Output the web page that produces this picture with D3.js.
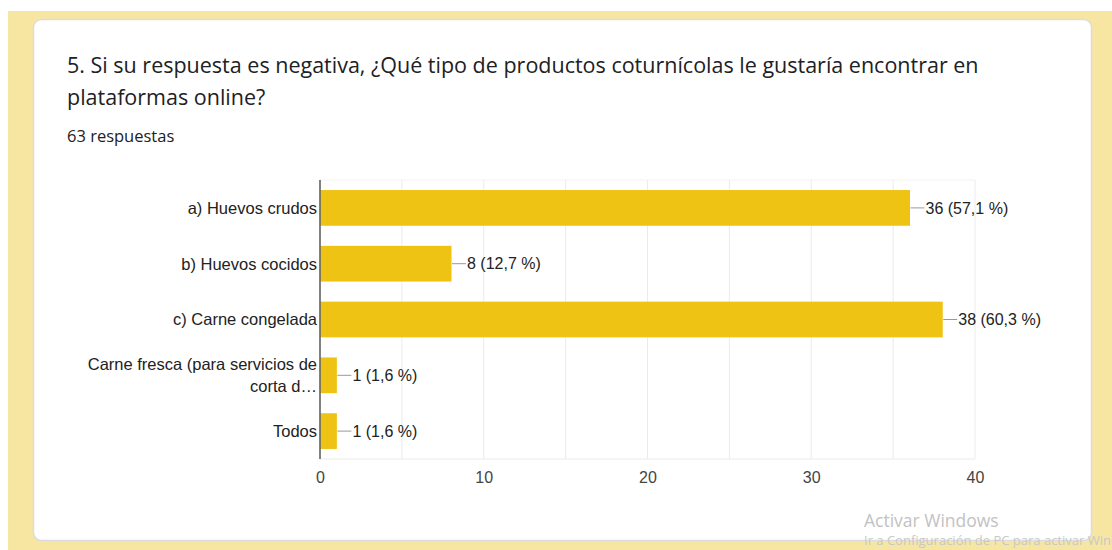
<!DOCTYPE html>
<html>
<head>
<meta charset="utf-8">
<script src="https://cdn.jsdelivr.net/npm/d3@7"></script>
<style>
  html, body { margin: 0; padding: 0; background: #fff; }
  svg { display: block; }
</style>
</head>
<body>
<div id="chart"></div>
<script>
// data
const categories = [
  "a) Huevos crudos",
  "b) Huevos cocidos",
  "c) Carne congelada",
  "Carne fresca (para servicios de|corta d…",
  "Todos"
];
const counts = [36, 8, 38, 1, 1];
const percents = ["57,1", "12,7", "60,3", "1,6", "1,6"];
const xTicks = [0, 10, 20, 30, 40];
const gridTicks = [0, 5, 10, 15, 20, 25, 30, 35, 40];

const W = 1112, H = 550;
const MARGIN = { LEFT: 320, RIGHT: 137, TOP: 180, BOTTOM: 91 };
const WIDTH = W - MARGIN.LEFT - MARGIN.RIGHT;
const HEIGHT = H - MARGIN.TOP - MARGIN.BOTTOM;
const font = "Arial, 'Liberation Sans', sans-serif";
const headFont = "'Open Sans', Roboto, sans-serif";

const svg = d3.select("#chart").append("svg")
  .attr("width", W)
  .attr("height", H);

// page background + card
svg.append("rect")
  .attr("x", 8).attr("y", 11)
  .attr("width", W - 8).attr("height", H - 11)
  .attr("fill", "#f7e6a1");
svg.append("rect")
  .attr("x", 33.5).attr("y", 19.5)
  .attr("width", 1058).attr("height", 521)
  .attr("rx", 8)
  .attr("fill", "#fff")
  .attr("stroke", "#dadce0")
  .attr("stroke-width", 1.5);

// title
const title = svg.append("text")
  .attr("font-family", headFont)
  .attr("font-size", "21.5px")
  .attr("fill", "#202124");
title.append("tspan").attr("x", 67).attr("y", 73)
  .text("5. Si su respuesta es negativa, ¿Qué tipo de productos coturnícolas le gustaría encontrar en");
title.append("tspan").attr("x", 67).attr("y", 105)
  .text("plataformas online?");

svg.append("text")
  .attr("x", 67).attr("y", 142)
  .attr("font-family", headFont)
  .attr("font-size", "16.5px")
  .attr("fill", "#202124")
  .text("63 respuestas");

const g = svg.append("g")
  .attr("transform", `translate(${MARGIN.LEFT}, ${MARGIN.TOP})`);

// scales
const x = d3.scaleLinear().domain([0, 40]).range([0, WIDTH]);
const y = d3.scaleBand()
  .domain(categories)
  .range([0, HEIGHT])
  .paddingInner(0.36)
  .paddingOuter(0.18);

// grid
g.selectAll(".grid")
  .data(gridTicks)
  .join("line")
  .attr("class", "grid")
  .attr("x1", d => x(d)).attr("x2", d => x(d))
  .attr("y1", 0).attr("y2", HEIGHT)
  .attr("stroke", "#ebebeb");
g.append("line")
  .attr("x1", 0).attr("x2", WIDTH)
  .attr("y1", 0).attr("y2", 0)
  .attr("stroke", "#f2f2f2");
g.append("line")
  .attr("x1", 0).attr("x2", WIDTH)
  .attr("y1", HEIGHT).attr("y2", HEIGHT)
  .attr("stroke", "#ebebeb");

// x axis labels
const xAxisCall = d3.axisBottom(x)
  .tickValues(xTicks)
  .tickSize(0)
  .tickPadding(13);
const xAxis = g.append("g")
  .attr("transform", `translate(0, ${HEIGHT})`)
  .call(xAxisCall);
xAxis.select(".domain").remove();
xAxis.selectAll("text")
  .attr("font-family", font)
  .attr("font-size", "16px")
  .attr("fill", "#444");

// bars
g.selectAll(".bar")
  .data(categories)
  .join("rect")
  .attr("class", "bar")
  .attr("x", 0.5)
  .attr("y", d => y(d))
  .attr("width", (d, i) => x(counts[i]))
  .attr("height", y.bandwidth())
  .attr("fill", "#efc314");

// leader lines + value labels
categories.forEach((c, i) => {
  const cy = y(c) + y.bandwidth() / 2;
  const x0 = x(counts[i]) + 1;
  g.append("line")
    .attr("x1", x0).attr("x2", x0 + 14)
    .attr("y1", cy).attr("y2", cy)
    .attr("stroke", "#999");
  g.append("text")
    .attr("x", x0 + 15)
    .attr("y", cy)
    .attr("dy", "0.36em")
    .attr("font-family", font)
    .attr("font-size", "16px")
    .attr("fill", "#222")
    .text(`${counts[i]} (${percents[i]} %)`);
});

// category labels
categories.forEach(c => {
  const lines = c.split("|");
  const cy = y(c) + y.bandwidth() / 2;
  const lh = 22;
  const t = g.append("text")
    .attr("text-anchor", "end")
    .attr("font-family", font)
    .attr("font-size", "16.5px")
    .attr("fill", "#222");
  lines.forEach((l, k) => {
    t.append("tspan")
      .attr("x", -3)
      .attr("y", cy + (k - (lines.length - 1) / 2) * lh)
      .attr("dy", "0.36em")
      .text(l);
  });
});

// y axis line
g.append("line")
  .attr("x1", 0).attr("x2", 0)
  .attr("y1", 0).attr("y2", HEIGHT)
  .attr("stroke", "#333")
  .attr("stroke-width", 1.2);

// watermark
svg.append("text")
  .attr("x", 864).attr("y", 527)
  .attr("font-family", "'Open Sans', 'Noto Sans', sans-serif")
  .attr("font-size", "17.5px")
  .attr("fill", "#c2c2c2")
  .text("Activar Windows");
svg.append("text")
  .attr("x", 864).attr("y", 545)
  .attr("font-family", "'Open Sans', 'Noto Sans', sans-serif")
  .attr("font-size", "13px")
  .attr("fill", "#c8c8c8")
  .text("Ir a Configuración de PC para activar Windows");
</script>
</body>
</html>
